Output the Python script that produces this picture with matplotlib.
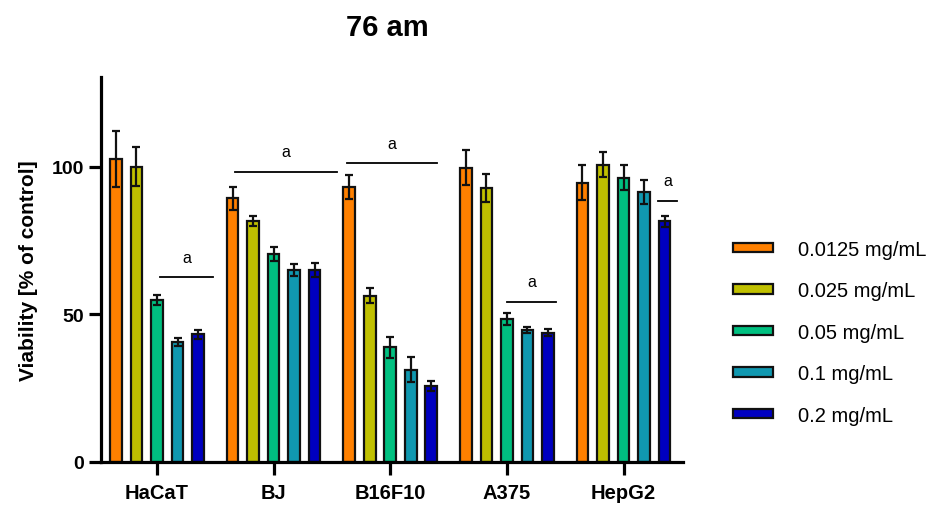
import matplotlib
matplotlib.use('Agg')
import matplotlib.pyplot as plt
import numpy as np

plt.rcParams['font.family'] = ['Liberation Sans', 'DejaVu Sans']

# -------------------------------
# DATA
# -------------------------------
cell_lines = ['HaCaT', 'BJ', 'B16F10', 'A375', 'HepG2']
doses = ['0.0125 mg/mL', '0.025 mg/mL', '0.05 mg/mL', '0.1 mg/mL', '0.2 mg/mL']

# viability per dose for each cell line
mean_0125 = [102.7, 89.4, 93.1, 99.8, 94.7]
mean_025 = [100.1, 81.7, 56.4, 92.8, 100.8]
mean_05 = [54.9, 70.6, 38.9, 48.4, 96.4]
mean_1 = [40.7, 65.1, 31.3, 44.7, 91.5]
mean_2 = [43.3, 65.1, 25.7, 43.8, 81.6]

sd_0125 = [9.5, 3.9, 4.0, 6.0, 6.0]
sd_025 = [6.6, 1.6, 2.6, 4.7, 4.2]
sd_05 = [1.6, 2.4, 3.6, 2.0, 4.3]
sd_1 = [1.4, 2.1, 4.3, 1.0, 4.2]
sd_2 = [1.5, 2.5, 1.8, 1.2, 1.8]

# significance marks: group, line start/end (offset from group centre), height
sig_group = [0, 1, 2, 3, 4]
sig_start = [0.03, -0.33, -0.37, 0.0, 0.30]
sig_end = [0.48, 0.54, 0.40, 0.42, 0.46]
sig_height = [62.6, 98.4, 101.2, 54.3, 88.6]

colors = ['#FF8000', '#C0C000', '#00C080', '#1098B0', '#0000C0']

means = [mean_0125, mean_025, mean_05, mean_1, mean_2]
sds = [sd_0125, sd_025, sd_05, sd_1, sd_2]

# -------------------------------
# PLOT
# -------------------------------
fig = plt.figure(figsize=(9.3, 5.06), dpi=100)
ax = fig.add_axes([0.1086, 0.085, 0.6258, 0.761])

x = np.arange(len(cell_lines))
step = 0.176
width = 0.10

for i, (m, s) in enumerate(zip(means, sds)):
    pos = x + (i - 2) * step
    ax.bar(pos, m, width, color=colors[i], edgecolor='#111111', linewidth=1.6,
           label=doses[i], zorder=2)
    ax.errorbar(pos, m, yerr=s, fmt='none', ecolor='#111111', elinewidth=1.6,
                capsize=3, capthick=1.6, zorder=3)

for g, a, b, h in zip(sig_group, sig_start, sig_end, sig_height):
    ax.plot([g + a, g + b], [h, h], color='black', lw=1.3, zorder=3)
    ax.text(g + (a + b) / 2, h + 4.3, 'a', ha='center', va='bottom', fontsize=11.5)

ax.set_xlim(-0.48, 4.51)
ax.set_ylim(0, 130.5)
ax.set_yticks([0, 50, 100])
ax.set_xticks(x)
ax.set_xticklabels(cell_lines, fontsize=14.5, fontweight='bold')
for lbl in ax.get_yticklabels():
    lbl.set_fontsize(14)
    lbl.set_fontweight('bold')

ax.spines['top'].set_visible(False)
ax.spines['right'].set_visible(False)
ax.spines['left'].set_linewidth(2.3)
ax.spines['bottom'].set_linewidth(2.3)
ax.tick_params(axis='both', length=9, width=2.3, direction='out')
ax.tick_params(axis='x', pad=6)
ax.tick_params(axis='y', pad=3)

ax.set_ylabel('Viability [% of control]', fontsize=15, fontweight='bold', labelpad=10)
fig.text(0.417, 0.945, '76 am', ha='center', va='center', fontsize=21, fontweight='bold')

leg = ax.legend(loc='center left', bbox_to_anchor=(1.055, 0.337), frameon=False,
                fontsize=14.5, handlelength=2.0, handleheight=0.35, labelspacing=1.12,
                handletextpad=1.2)

plt.savefig('out.png', dpi=100)
plt.close()
